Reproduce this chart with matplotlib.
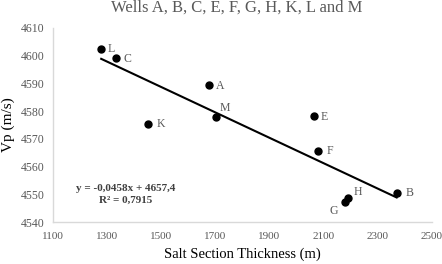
import numpy as np
import matplotlib
matplotlib.use('Agg')
import matplotlib.pyplot as plt

plt.rcParams['font.family'] = ['Liberation Serif', 'DejaVu Serif']

# wells: salt section thickness (m) vs Vp (m/s)
wells = ['L', 'C', 'A', 'M', 'K', 'E', 'F', 'B', 'H', 'G']
thickness = [1278, 1333, 1678, 1704, 1452, 2063, 2081, 2370, 2189, 2178]
vp = [4602.4, 4599.2, 4589.4, 4578.0, 4575.2, 4578.4, 4565.8, 4550.3, 4548.8, 4547.4]

# trendline from the chart
slope = -0.0458
intercept = 4657.4
eq_text = 'y = -0,0458x + 4657,4'
r2_text = 'R² = 0,7915'

# label offsets in points (dx, dy)
offsets = {'L': (7, 0), 'C': (8, -1), 'A': (8, -1), 'M': (6, 6), 'K': (9, 0),
           'E': (8, -1), 'F': (8, 0), 'B': (9, 0), 'H': (7, 4), 'G': (-8, -7)}

grey = '#595959'

fig = plt.figure(figsize=(4.42, 2.64), dpi=100)
ax = fig.add_axes([0.12, 0.159, 0.857, 0.735])

ax.plot(thickness, vp, 'o', color='black', markersize=5, zorder=3)

xs = np.array([min(thickness), max(thickness)])
ax.plot(xs, slope * xs + intercept, color='black', linewidth=1.5, zorder=2)

for name, x, y in zip(wells, thickness, vp):
    dx, dy = offsets[name]
    ax.annotate(name, (x, y), xytext=(dx, dy), textcoords='offset points',
                ha='center', va='center', fontsize=8.5, color=grey)

ax.text(1368, 4552.2, eq_text, ha='center', va='center', fontsize=8,
        fontweight='bold', color='#404040')
ax.text(1370, 4547.9, r2_text, ha='center', va='center', fontsize=8,
        fontweight='bold', color='#404040')

ax.set_xlim(1100, 2500)
ax.set_ylim(4540, 4610)
ax.set_xticks(range(1100, 2501, 200))
ax.set_yticks(range(4540, 4611, 10))
ax.tick_params(length=0, colors=grey)
ax.tick_params(axis='y', pad=6, labelsize=8.5)
ax.tick_params(axis='x', pad=7, labelsize=8)

for s in ['top', 'right']:
    ax.spines[s].set_visible(False)
for s in ['left', 'bottom']:
    ax.spines[s].set_color('#d9d9d9')
    ax.spines[s].set_linewidth(1)

ax.set_xlabel('Salt Section Thickness (m)', fontsize=10.5, color='black', labelpad=5)
ax.set_ylabel('Vp (m/s)', fontsize=11, color='black', labelpad=4)
fig.text(0.535, 0.972, 'Wells A, B, C, E, F, G, H, K, L and M', ha='center', va='center',
         fontsize=12, color=grey)

plt.savefig('out.png', dpi=100)
